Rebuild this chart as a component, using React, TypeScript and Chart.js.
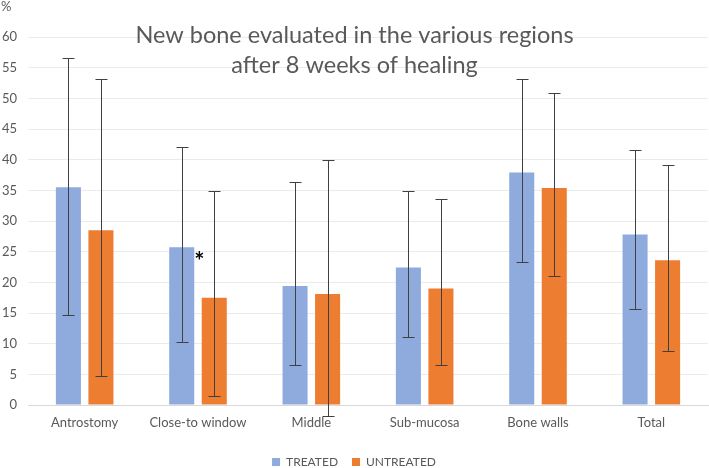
import React, { useEffect, useRef } from "react";
import { Chart, registerables } from "chart.js";

Chart.register(...registerables);

const categories = ["Antrostomy", "Close-to window", "Middle", "Sub-mucosa", "Bone walls", "Total"];
const seriesNames = ["TREATED", "UNTREATED"];
const treated = [35.5, 25.7, 19.4, 22.4, 37.9, 27.8];
const treatedLow = [14.6, 10.2, 6.5, 11.1, 23.3, 15.7];
const treatedHigh = [56.5, 42.0, 36.4, 34.9, 53.1, 41.6];
const untreated = [28.5, 17.5, 18.1, 19.0, 35.4, 23.6];
const untreatedLow = [4.7, 1.4, -1.8, 6.5, 21.0, 8.8];
const untreatedHigh = [53.1, 34.9, 40.0, 33.6, 50.8, 39.2];
const yTicks = [0, 5, 10, 15, 20, 25, 30, 35, 40, 45, 50, 55, 60];
const titleLines = ["New bone evaluated in the various regions", "after 8 weeks of healing"];
const unitLabel = "%";
const significantIndex = 1;

const FONT = "Lato, 'Open Sans', sans-serif";
const GREY = "#595959";

const errorBarPlugin = {
  id: "errorBars",
  afterDatasetsDraw(chart: any) {
    const ctx = chart.ctx;
    const y = chart.scales.y;
    const ranges = [
      [treatedLow, treatedHigh],
      [untreatedLow, untreatedHigh],
    ];
    ctx.save();
    ctx.strokeStyle = "#404040";
    ctx.lineWidth = 1;
    chart.data.datasets.forEach((_: any, di: number) => {
      const meta = chart.getDatasetMeta(di);
      meta.data.forEach((bar: any, i: number) => {
        const x = Math.round(bar.x) + 0.5;
        const yl = Math.round(y.getPixelForValue(ranges[di][0][i])) + 0.5;
        const yh = Math.round(y.getPixelForValue(ranges[di][1][i])) + 0.5;
        ctx.beginPath();
        ctx.moveTo(x, yl);
        ctx.lineTo(x, yh);
        ctx.moveTo(x - 6, yl);
        ctx.lineTo(x + 6, yl);
        ctx.moveTo(x - 6, yh);
        ctx.lineTo(x + 6, yh);
        ctx.stroke();
      });
    });
    // significance asterisk
    const b = chart.getDatasetMeta(0).data[significantIndex];
    if (b) {
      ctx.fillStyle = "#000";
      ctx.font = "bold 24px " + FONT;
      ctx.textAlign = "left";
      ctx.textBaseline = "middle";
      ctx.fillText("*", b.x + b.width / 2 + 0, b.y + 15);
    }
    // title overlay
    ctx.fillStyle = GREY;
    ctx.font = "23.5px " + FONT;
    ctx.textAlign = "center";
    ctx.textBaseline = "middle";
    const cx = chart.width / 2;
    ctx.fillText(titleLines[0], cx, 35);
    ctx.fillText(titleLines[1], cx, 65);
    // unit label
    ctx.font = "13px " + FONT;
    ctx.textAlign = "left";
    ctx.fillText(unitLabel, 1, 7);
    ctx.restore();
  },
};

export default function App() {
  const ref = useRef<HTMLCanvasElement>(null);
  useEffect(() => {
    if (!ref.current) return;
    const chart = new Chart(ref.current, {
      type: "bar",
      data: {
        labels: categories,
        datasets: [
          { label: seriesNames[0], data: treated, backgroundColor: "#8FAADC", categoryPercentage: 0.574, barPercentage: 0.77 },
          { label: seriesNames[1], data: untreated, backgroundColor: "#ED7D31", categoryPercentage: 0.574, barPercentage: 0.77 },
        ],
      },
      options: {
        animation: false,
        responsive: false,
        maintainAspectRatio: false,
        layout: { padding: { top: 37, right: 1, left: 0, bottom: -10 } },
        plugins: {
          title: { display: false },
          tooltip: { enabled: false },
          legend: {
            position: "bottom",
            labels: {
              color: GREY,
              font: { family: FONT, size: 12 },
              boxWidth: 8,
              boxHeight: 8,
              padding: 14,
            },
          },
        },
        scales: {
          x: {
            grid: { display: false },
            border: { display: true, color: "#D9D9D9" },
            ticks: { color: GREY, font: { family: FONT, size: 13 }, padding: 2 },
            afterFit(s: any) { s.height = 37; },
          },
          y: {
            min: 0,
            max: 60,
            afterBuildTicks(s: any) { s.ticks = yTicks.map((v) => ({ value: v })); },
            grid: { color: "#EBEBEB", drawTicks: false },
            border: { display: false },
            ticks: { color: GREY, font: { family: FONT, size: 13 }, padding: 11 },
            afterFit(s: any) { s.width = 28; },
          },
        },
      },
      plugins: [errorBarPlugin],
    });
    return () => chart.destroy();
  }, []);
  return (
    <div style={{ position: "absolute", left: 0, top: 0, width: 709, height: 468 }}>
      <canvas ref={ref} width={709} height={468} style={{ width: 709, height: 468 }} />
    </div>
  );
}
